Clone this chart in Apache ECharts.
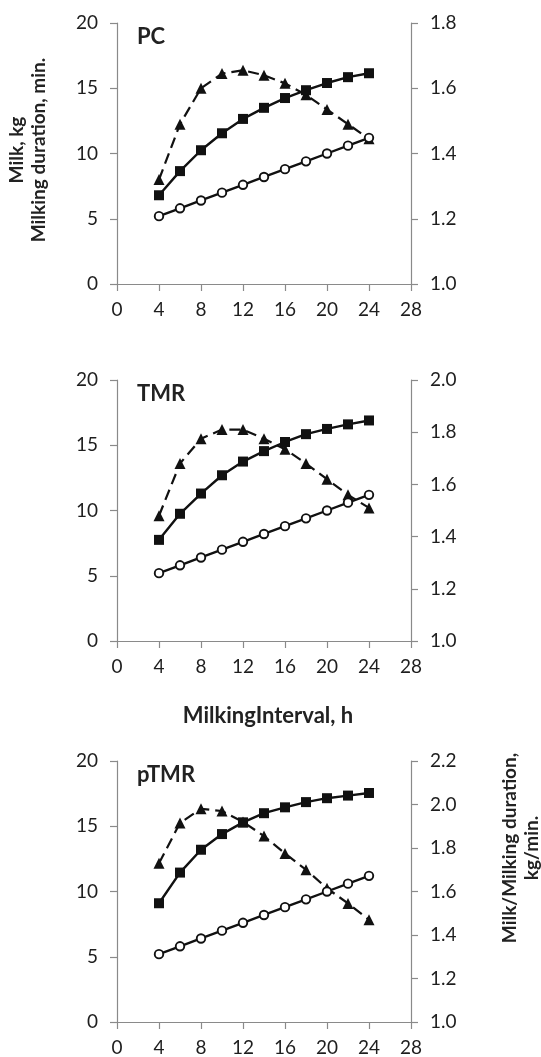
<!DOCTYPE html>
<html>
<head>
<meta charset="utf-8">
<script src="https://cdn.jsdelivr.net/npm/echarts@6/dist/echarts.min.js"></script>
<style>
  html, body { margin: 0; padding: 0; background: #fff; }
  #chart { width: 541px; height: 1057px; }
</style>
</head>
<body>
<div id="chart"></div>
<script>
// Milking interval (h) on the x axis
const intervals = [4, 6, 8, 10, 12, 14, 16, 18, 20, 22, 24];
const xTicks = { min: 0, max: 28, interval: 4 };

// Milking duration, min (left axis) – same curve for each feeding group
const durationMin = [5.2, 5.8, 6.4, 7.0, 7.6, 8.2, 8.8, 9.4, 10.0, 10.6, 11.2];

// PC group
const pcMilk = [6.8, 8.65, 10.25, 11.55, 12.65, 13.5, 14.25, 14.85, 15.4, 15.85, 16.15];
const pcRate = [1.32, 1.49, 1.60, 1.645, 1.655, 1.64, 1.615, 1.58, 1.535, 1.49, 1.445];

// TMR group
const tmrMilk = [7.75, 9.75, 11.3, 12.7, 13.75, 14.55, 15.25, 15.85, 16.25, 16.6, 16.9];
const tmrRate = [1.48, 1.68, 1.775, 1.81, 1.81, 1.775, 1.735, 1.68, 1.62, 1.56, 1.51];

// pTMR group
const ptmrMilk = [9.1, 11.45, 13.2, 14.4, 15.3, 16.0, 16.45, 16.85, 17.15, 17.35, 17.55];
const ptmrRate = [1.73, 1.915, 1.98, 1.97, 1.92, 1.855, 1.775, 1.70, 1.615, 1.545, 1.47];

// Axis ranges
const leftAxis = { min: 0, max: 20, interval: 5 };
const rightMax = [1.8, 2.0, 2.2];
const panelNames = ['PC', 'TMR', 'pTMR'];

const FONT = 'Lato, "Open Sans", sans-serif';
const LABEL_COLOR = '#1e1e1e';
const AXIS_COLOR = '#8a8a8a';
const TICK_FONT = 19;

const panels = [
  { name: panelNames[0], milk: pcMilk, rate: pcRate, rMax: rightMax[0], top: 23 },
  { name: panelNames[1], milk: tmrMilk, rate: tmrRate, rMax: rightMax[1], top: 380 },
  { name: panelNames[2], milk: ptmrMilk, rate: ptmrRate, rMax: rightMax[2], top: 761 }
];
const PLOT_H = 261;

const pairs = arr => intervals.map((x, i) => [x, arr[i]]);

const grid = [], xAxis = [], yAxis = [], series = [], graphic = [];

panels.forEach((p, k) => {
  grid.push({ left: 117, right: 130, top: p.top, height: PLOT_H });
  xAxis.push({
    type: 'value', gridIndex: k, min: xTicks.min, max: xTicks.max, interval: xTicks.interval,
    splitLine: { show: false },
    axisLine: { lineStyle: { color: AXIS_COLOR, width: 1.2 } },
    axisTick: { length: 7, lineStyle: { color: AXIS_COLOR, width: 1.2 } },
    axisLabel: { color: LABEL_COLOR, fontFamily: FONT, fontSize: TICK_FONT, margin: 16 }
  });
  yAxis.push({
    type: 'value', gridIndex: k, position: 'left',
    min: leftAxis.min, max: leftAxis.max, interval: leftAxis.interval,
    splitLine: { show: false },
    axisLine: { show: true, lineStyle: { color: AXIS_COLOR, width: 1.2 } },
    axisTick: { show: true, length: 7, lineStyle: { color: AXIS_COLOR, width: 1.2 } },
    axisLabel: { color: LABEL_COLOR, fontFamily: FONT, fontSize: TICK_FONT, margin: 19 }
  });
  yAxis.push({
    type: 'value', gridIndex: k, position: 'right',
    min: 1.0, max: p.rMax, interval: 0.2,
    splitLine: { show: false },
    axisLine: { show: true, lineStyle: { color: AXIS_COLOR, width: 1.2 } },
    axisTick: { show: true, length: 7, lineStyle: { color: AXIS_COLOR, width: 1.2 } },
    axisLabel: { color: LABEL_COLOR, fontFamily: FONT, fontSize: TICK_FONT, margin: 19,
      formatter: v => v.toFixed(1) }
  });

  // Milk/milking duration, kg/min – dashed with triangles (right axis)
  series.push({
    type: 'line', xAxisIndex: k, yAxisIndex: 2 * k + 1, data: pairs(p.rate),
    symbol: 'triangle', symbolSize: 11, showSymbol: true,
    lineStyle: { color: '#111', width: 2.2, type: [11, 6] },
    itemStyle: { color: '#111' }, z: 3, animation: false
  });
  // Milk, kg – solid with squares
  series.push({
    type: 'line', xAxisIndex: k, yAxisIndex: 2 * k, data: pairs(p.milk),
    symbol: 'rect', symbolSize: 10,
    lineStyle: { color: '#111', width: 2.4 },
    itemStyle: { color: '#111' }, z: 4, animation: false
  });
  // Milking duration, min – solid with open circles
  series.push({
    type: 'line', xAxisIndex: k, yAxisIndex: 2 * k, data: pairs(durationMin),
    symbol: 'circle', symbolSize: 8.5,
    lineStyle: { color: '#111', width: 2.4 },
    itemStyle: { color: '#fff', borderColor: '#111', borderWidth: 1.9 }, z: 5, animation: false
  });

  graphic.push({
    type: 'text', left: 137, top: p.top + 3,
    style: { text: p.name, font: 'bold 22px ' + FONT, fill: '#222' }
  });
});

// Left axis title
graphic.push({
  type: 'text', x: 28, y: 150, rotation: Math.PI / 2,
  style: { text: 'Milk, kg\nMilking duration, min.', font: 'bold 19px ' + FONT,
    fill: '#222', align: 'center', verticalAlign: 'middle', lineHeight: 22 }
});
// X axis title
graphic.push({
  type: 'text', x: 268, y: 716,
  style: { text: 'MilkingInterval, h', font: 'bold 22px ' + FONT,
    fill: '#222', align: 'center', verticalAlign: 'middle' }
});
// Right axis title
graphic.push({
  type: 'text', x: 521, y: 848, rotation: Math.PI / 2,
  style: { text: 'Milk/Milking duration,\nkg/min.', font: 'bold 19px ' + FONT,
    fill: '#222', align: 'center', verticalAlign: 'middle', lineHeight: 22 }
});

const chart = echarts.init(document.getElementById('chart'), null, { renderer: 'canvas' });
chart.setOption({
  backgroundColor: '#fff',
  animation: false,
  grid, xAxis, yAxis, series, graphic
});
</script>
</body>
</html>
